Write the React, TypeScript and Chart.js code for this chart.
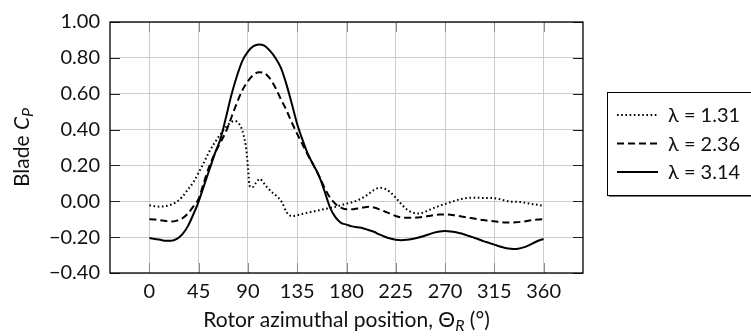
import React, { useEffect, useRef } from 'react';
import { Chart, registerables } from 'chart.js';

Chart.register(...registerables);

// Rotor azimuthal position (deg), shared by lambda = 2.36 and 3.14
const ANGLES = [
  0, 5, 10, 15, 20, 25, 30, 35, 40, 45, 50, 55, 60, 65, 70, 75, 80, 85, 90, 95,
  100, 105, 110, 115, 120, 125, 130, 135, 140, 145, 150, 155, 160, 165, 170, 175,
  180, 185, 190, 195, 200, 205, 210, 215, 220, 225, 230, 235, 240, 245, 250, 255,
  260, 265, 270, 275, 280, 285, 290, 295, 300, 305, 310, 315, 320, 325, 330, 335,
  340, 345, 350, 355, 360,
];

// lambda = 3.14
const CP_TSR_314 = [
  -0.205, -0.21, -0.215, -0.22, -0.22, -0.21, -0.185, -0.14, -0.075, 0.0, 0.09, 0.18, 0.27, 0.35, 0.47, 0.595, 0.70, 0.785, 0.835, 0.865,
  0.875, 0.868, 0.84, 0.80, 0.745, 0.655, 0.545, 0.43, 0.34, 0.26, 0.20, 0.14, 0.055, -0.035, -0.09, -0.12,
  -0.13, -0.14, -0.145, -0.15, -0.16, -0.17, -0.185, -0.198, -0.208, -0.215, -0.217, -0.215, -0.21, -0.203, -0.195, -0.185,
  -0.175, -0.168, -0.166, -0.168, -0.173, -0.18, -0.19, -0.2, -0.21, -0.222, -0.232, -0.242, -0.252, -0.26, -0.265, -0.266,
  -0.26, -0.25, -0.235, -0.22, -0.21,
];

// lambda = 2.36
const CP_TSR_236 = [
  -0.10, -0.102, -0.106, -0.11, -0.113, -0.108, -0.095, -0.07, -0.03, 0.015, 0.11, 0.20, 0.27, 0.33, 0.39, 0.47, 0.55, 0.62, 0.67, 0.705,
  0.72, 0.715, 0.685, 0.635, 0.57, 0.51, 0.44, 0.375, 0.315, 0.255, 0.20, 0.14, 0.075, 0.02, -0.015, -0.035,
  -0.045, -0.045, -0.04, -0.035, -0.03, -0.035, -0.045, -0.057, -0.07, -0.082, -0.09, -0.092, -0.092, -0.09, -0.087, -0.082,
  -0.077, -0.074, -0.073, -0.075, -0.08, -0.085, -0.09, -0.095, -0.10, -0.105, -0.108, -0.112, -0.115, -0.118, -0.118, -0.117,
  -0.114, -0.11, -0.105, -0.102, -0.10,
];

// lambda = 1.31 (own angle list, finer near the stall drop)
const ANGLES_TSR_131 = [
  0, 5, 10, 15, 20, 25, 30, 35, 40, 45, 50, 55, 60, 65, 70, 75, 78, 81, 84, 86,
  88, 89, 90, 91, 92, 94, 97, 101, 104, 108, 112, 116, 121, 125, 130, 135, 140, 145,
  150, 155, 160, 165, 170, 175, 180, 185, 190, 195, 200, 205, 210, 215, 220, 225,
  230, 235, 240, 245, 250, 255, 260, 265, 270, 275, 280, 285, 290, 295, 300, 305,
  310, 315, 320, 325, 330, 335, 340, 345, 350, 355, 360,
];
const CP_TSR_131 = [
  -0.022, -0.028, -0.03, -0.027, -0.018, -0.003, 0.025, 0.065, 0.105, 0.16, 0.22, 0.28, 0.33, 0.375, 0.415, 0.443, 0.448, 0.438, 0.41, 0.37,
  0.31, 0.26, 0.19, 0.11, 0.08, 0.078, 0.10, 0.125, 0.105, 0.075, 0.05, 0.03, -0.005, -0.058, -0.083, -0.078, -0.07, -0.063,
  -0.057, -0.05, -0.043, -0.037, -0.03, -0.022, -0.013, -0.005, 0.005, 0.02, 0.04, 0.062, 0.075, 0.07, 0.05, 0.02,
  -0.015, -0.045, -0.062, -0.068, -0.063, -0.05, -0.037, -0.025, -0.015, -0.005, 0.005, 0.013, 0.018, 0.02, 0.02, 0.018,
  0.018, 0.017, 0.012, 0.004, -0.002, -0.003, -0.005, -0.01, -0.016, -0.02, -0.025,
];

const X_TICKS = [0, 45, 90, 135, 180, 225, 270, 315, 360];
const Y_TICKS = [-0.4, -0.2, 0, 0.2, 0.4, 0.6, 0.8, 1.0];
const SERIES_LABELS = ['\u03bb = 1.31', '\u03bb = 2.36', '\u03bb = 3.14'];
const X_RANGE = [-36, 396];
const Y_RANGE = [-0.4, 1.0];

const FONT = 'Lato, "Open Sans", sans-serif';
const FS = 20;
const FS_TITLE = 21;

const DASHES = [[1.6, 2.6], [7, 4], []];

type Seg = { text: string; font: string; dy?: number; w?: number };

function drawRich(ctx: CanvasRenderingContext2D, segs: Seg[], cx: number, baseY: number) {
  let total = 0;
  segs.forEach((s) => {
    ctx.font = s.font;
    s.w = ctx.measureText(s.text).width;
    total += s.w;
  });
  let x = cx - total / 2;
  ctx.textAlign = 'left';
  ctx.textBaseline = 'alphabetic';
  segs.forEach((s) => {
    ctx.font = s.font;
    ctx.fillText(s.text, x, baseY + (s.dy || 0));
    x += s.w || 0;
  });
}

const decorPlugin = {
  id: 'decor',
  afterDraw(chart: any) {
    const { ctx, chartArea: a, scales } = chart;
    const xs = scales.x;
    const ys = scales.y;
    ctx.save();
    const seg = (x1: number, y1: number, x2: number, y2: number) => {
      ctx.beginPath();
      ctx.moveTo(x1, y1);
      ctx.lineTo(x2, y2);
      ctx.stroke();
    };
    // inner tick marks
    ctx.lineWidth = 1;
    ctx.strokeStyle = '#8a8a8a';
    X_TICKS.forEach((v) => {
      const px = Math.round(xs.getPixelForValue(v)) + 0.5;
      seg(px, a.top, px, a.top + 10);
      seg(px, a.bottom, px, a.bottom - 10);
    });
    ctx.strokeStyle = '#222';
    Y_TICKS.forEach((v) => {
      const py = Math.round(ys.getPixelForValue(v)) + 0.5;
      seg(a.left, py, a.left + 10, py);
      seg(a.right, py, a.right - 10, py);
    });
    // frame
    ctx.strokeStyle = '#000';
    ctx.lineWidth = 1.3;
    ctx.strokeRect(a.left, a.top, a.right - a.left, a.bottom - a.top);

    // axis titles
    ctx.fillStyle = '#111';
    const cx = (a.left + a.right) / 2;
    drawRich(
      ctx,
      [
        { text: 'Rotor azimuthal position, \u0398', font: `${FS_TITLE}px ${FONT}` },
        { text: 'R', font: `italic ${FS_TITLE - 5}px ${FONT}`, dy: 4 },
        { text: ' (\u00b0)', font: `${FS_TITLE}px ${FONT}` },
      ],
      cx,
      327
    );
    ctx.save();
    ctx.translate(29, (a.top + a.bottom) / 2);
    ctx.rotate(-Math.PI / 2);
    drawRich(
      ctx,
      [
        { text: 'Blade ', font: `${FS_TITLE}px ${FONT}` },
        { text: 'C', font: `italic ${FS_TITLE}px ${FONT}` },
        { text: 'P', font: `italic ${FS_TITLE - 5}px ${FONT}`, dy: 4 },
      ],
      0,
      0
    );
    ctx.restore();

    // legend
    const lx = a.right + 24;
    const top = 92;
    const bottom = 195;
    ctx.fillStyle = '#777';
    ctx.fillRect(lx + 2, top + 2, 800, bottom - top);
    ctx.fillStyle = '#fff';
    ctx.fillRect(lx, top, 800, bottom - top);
    ctx.strokeStyle = '#000';
    ctx.lineWidth = 1;
    ctx.strokeRect(lx + 0.5, top + 0.5, 800, bottom - top);
    const rows = [115, 143.5, 172];
    chart.data.datasets.forEach((ds: any, i: number) => {
      const y = rows[i];
      ctx.strokeStyle = '#000';
      ctx.lineWidth = 2;
      ctx.setLineDash(DASHES[i]);
      seg(lx + 10, y, lx + 51, y);
      ctx.setLineDash([]);
      ctx.fillStyle = '#111';
      ctx.font = `${FS}px ${FONT}`;
      ctx.textAlign = 'left';
      ctx.textBaseline = 'middle';
      ctx.fillText(ds.label, lx + 61, y + 1);
    });
    ctx.restore();
  },
};

export default function App() {
  const ref = useRef<HTMLCanvasElement | null>(null);
  useEffect(() => {
    document.body.style.margin = '0';
    const canvas = ref.current;
    if (!canvas) return;
    const series = [
      { xs: ANGLES_TSR_131, ys: CP_TSR_131 },
      { xs: ANGLES, ys: CP_TSR_236 },
      { xs: ANGLES, ys: CP_TSR_314 },
    ];
    const chart = new Chart(canvas, {
      type: 'line',
      data: {
        datasets: series.map((s, i) => ({
          label: SERIES_LABELS[i],
          data: s.xs.map((x, j) => ({ x, y: s.ys[j] })),
          borderColor: '#000',
          borderWidth: 2,
          borderDash: DASHES[i],
          pointRadius: 0,
          fill: false,
          cubicInterpolationMode: 'monotone' as const,
        })),
      },
      options: {
        animation: false,
        responsive: false,
        devicePixelRatio: 1,
        layout: { padding: { top: 15, right: 168, left: 0, bottom: 0 } },
        plugins: { legend: { display: false }, tooltip: { enabled: false } },
        scales: {
          x: {
            type: 'linear',
            min: X_RANGE[0],
            max: X_RANGE[1],
            afterBuildTicks: (s: any) => {
              s.ticks = X_TICKS.map((v) => ({ value: v }));
            },
            afterFit: (s: any) => {
              s.height = 63;
            },
            grid: { color: '#cccccc', lineWidth: 1, drawTicks: false },
            border: { display: false },
            ticks: {
              padding: 7,
              color: '#111',
              font: { family: FONT, size: FS },
              maxRotation: 0,
              callback: (v: any) => String(v),
            },
          },
          y: {
            type: 'linear',
            min: Y_RANGE[0],
            max: Y_RANGE[1],
            afterBuildTicks: (s: any) => {
              s.ticks = Y_TICKS.map((v) => ({ value: v }));
            },
            afterFit: (s: any) => {
              s.width = 110;
            },
            grid: { color: '#cccccc', lineWidth: 1, drawTicks: false },
            border: { display: false },
            ticks: {
              padding: 10,
              color: '#111',
              font: { family: FONT, size: FS },
              callback: (v: any) => {
                const n = Number(v);
                const t = Math.abs(n).toFixed(2);
                return n < -1e-9 ? '\u2212' + t : t;
              },
            },
          },
        },
      },
      plugins: [decorPlugin],
    });
    return () => chart.destroy();
  }, []);
  return (
    <div style={{ width: 751, height: 336, position: 'relative' }}>
      <canvas ref={ref} width={751} height={336} style={{ display: 'block' }} />
    </div>
  );
}
